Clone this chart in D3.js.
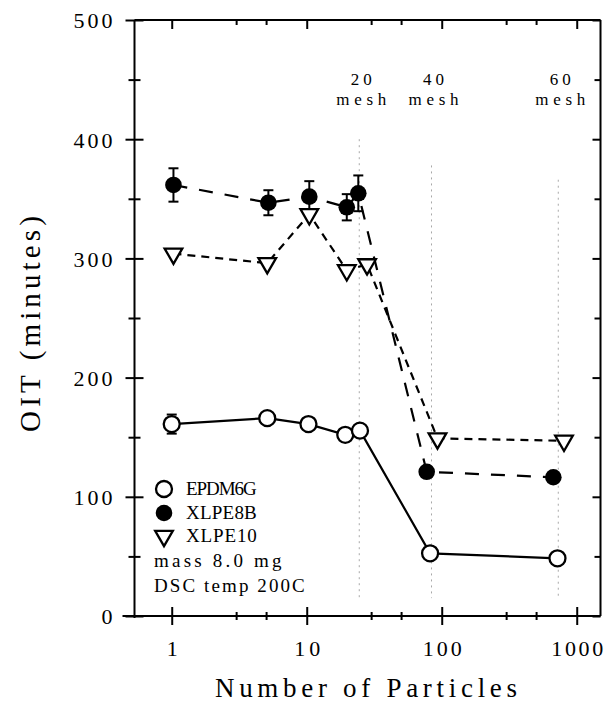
<!DOCTYPE html>
<html><head><meta charset="utf-8">
<script src="https://cdn.jsdelivr.net/npm/d3@7"></script>
<style>body{margin:0;background:#fff}svg{display:block}</style>
</head><body><svg id="c" width="606" height="704"></svg>
<script>
// ---- data ----
const seriesNames = ["EPDM6G", "XLPE8B", "XLPE10"];
const epdmX = [1, 5.1, 10.3, 19.3, 24.8, 82, 720];
const epdmY = [161, 166, 161, 152, 155.5, 52.6, 48.4];
const epdmErr = [8, 0, 0, 0, 0, 0, 0];
const xlpe8bX = [1.03, 5.2, 10.45, 19.8, 24.1, 77.4, 671];
const xlpe8bY = [361.6, 346.7, 351.8, 342.9, 354.6, 121, 116.4];
const xlpe8bErr = [14, 10.5, 13, 11, 15, 0, 0];
const xlpe10X = [1.03, 5.1, 10.45, 19.8, 28, 93, 805];
const xlpe10Y = [304, 296, 337, 290, 295, 149, 147];
const meshX = [24.5, 84, 730];
const meshTop = [400, 378, 366];
const meshLabels = ["20", "40", "60"];
const meshWord = "mesh";
const xMajorTicks = [1, 10, 100, 1000];
const xMinorTicks = [3, 5, 30, 50, 300, 500];
const yMajorTicks = [0, 100, 200, 300, 400, 500];
const yMinorTicks = [50, 150, 250, 350, 450];
const notes = ["mass 8.0 mg", "DSC temp 200C"];
const xTitle = "Number of Particles";
const yTitle = "OIT (minutes)";

// ---- layout ----
const FONT = "'Liberation Serif','DejaVu Serif',serif";
const L = 134.5, R = 600.5, T = 20, B = 616;
const svg = d3.select("#c");
const x = d3.scaleLog().domain([0.53, 1500]).range([L, R]);
const y = d3.scaleLinear().domain([0, 500]).range([B, T]);

function spaced(sel, cw) {
  sel.attr("textLength", function () { return this.textContent.length * cw; })
     .attr("lengthAdjust", "spacing");
}

// mesh dotted guides
const gMesh = svg.append("g");
meshX.forEach((mx, i) => {
  gMesh.append("line").attr("x1", x(mx)).attr("x2", x(mx))
    .attr("y1", y(meshTop[i])).attr("y2", y(15))
    .attr("stroke", "#a8a8a8").attr("stroke-width", 1).attr("stroke-dasharray", "2,4");
  gMesh.append("text").attr("x", x(mx) + 2).attr("y", 85).attr("text-anchor", "middle")
    .attr("font-family", FONT).attr("font-size", 17).text(meshLabels[i]).call(spaced, 10.5);
  gMesh.append("text").attr("x", x(mx) + 2).attr("y", 105).attr("text-anchor", "middle")
    .attr("font-family", FONT).attr("font-size", 17).text(meshWord).call(spaced, 12.5);
});

// frame
svg.append("line").attr("x1", L - 12).attr("x2", R).attr("y1", B).attr("y2", B).attr("stroke", "#000").attr("stroke-width", 2);
svg.append("line").attr("x1", L).attr("x2", R).attr("y1", T).attr("y2", T).attr("stroke", "#000").attr("stroke-width", 2);
svg.append("line").attr("x1", L).attr("x2", L).attr("y1", T).attr("y2", B + 2).attr("stroke", "#000").attr("stroke-width", 2);
svg.append("line").attr("x1", R).attr("x2", R).attr("y1", T).attr("y2", B).attr("stroke", "#000").attr("stroke-width", 2);

// bottom axis
const bx = svg.append("g").attr("transform", `translate(0,${B})`)
  .call(d3.axisBottom(x).tickValues(xMajorTicks).tickFormat(d3.format("d")).tickSize(9));
bx.select(".domain").remove();
bx.selectAll(".tick line").attr("y1", -9).attr("y2", 9).attr("stroke-width", 2);
bx.selectAll(".tick text").attr("y", 40).attr("dy", null).attr("font-family", FONT).attr("font-size", 22)
  .attr("fill", "#000").call(spaced, 13);
const bxm = svg.append("g").attr("transform", `translate(0,${B})`)
  .call(d3.axisBottom(x).tickValues(xMinorTicks).tickFormat("").tickSize(4));
bxm.select(".domain").remove();
bxm.selectAll(".tick line").attr("y1", -4).attr("y2", 4).attr("stroke-width", 2);

// top axis (inward ticks)
const tx = svg.append("g").attr("transform", `translate(0,${T})`)
  .call(d3.axisBottom(x).tickValues(xMajorTicks).tickFormat("").tickSize(9));
tx.select(".domain").remove();
tx.selectAll(".tick line").attr("stroke-width", 2);
const txm = svg.append("g").attr("transform", `translate(0,${T})`)
  .call(d3.axisBottom(x).tickValues(xMinorTicks).tickFormat("").tickSize(5));
txm.select(".domain").remove();
txm.selectAll(".tick line").attr("stroke-width", 2);

// left axis
const ly = svg.append("g").attr("transform", `translate(${L},0)`)
  .call(d3.axisLeft(y).tickValues(yMajorTicks).tickFormat(d3.format("d")).tickSize(9));
ly.select(".domain").remove();
ly.selectAll(".tick line").attr("x1", -9).attr("x2", 9).attr("stroke-width", 2);
ly.selectAll(".tick text").attr("x", -22).attr("dy", "0.36em").attr("font-family", FONT).attr("font-size", 22)
  .attr("fill", "#000").call(spaced, 13);
const lym = svg.append("g").attr("transform", `translate(${L},0)`)
  .call(d3.axisLeft(y).tickValues(yMinorTicks).tickFormat("").tickSize(6));
lym.select(".domain").remove();
lym.selectAll(".tick line").attr("x1", -6).attr("x2", 6).attr("stroke-width", 2);

// right axis (inward ticks)
const ry = svg.append("g").attr("transform", `translate(${R},0)`)
  .call(d3.axisRight(y).tickValues(yMajorTicks).tickFormat("").tickSize(8));
ry.select(".domain").remove();
ry.selectAll(".tick line").attr("x1", -8).attr("x2", 0).attr("stroke-width", 2);
const rym = svg.append("g").attr("transform", `translate(${R},0)`)
  .call(d3.axisRight(y).tickValues(yMinorTicks).tickFormat("").tickSize(6));
rym.select(".domain").remove();
rym.selectAll(".tick line").attr("x1", -6).attr("x2", 0).attr("stroke-width", 2);

// titles
svg.append("text").attr("x", 366).attr("y", 697).attr("text-anchor", "middle")
  .attr("font-family", FONT).attr("font-size", 27).text(xTitle).call(spaced, 15.9);
svg.append("text").attr("transform", "translate(40,324) rotate(-90)").attr("text-anchor", "middle")
  .attr("font-family", FONT).attr("font-size", 29).text(yTitle).call(spaced, 16.6);

// series
const series = [
  { name: seriesNames[0], xs: epdmX, ys: epdmY, err: epdmErr, dash: null, sym: "open" },
  { name: seriesNames[1], xs: xlpe8bX, ys: xlpe8bY, err: xlpe8bErr, dash: "14,12", sym: "filled" },
  { name: seriesNames[2], xs: xlpe10X, ys: xlpe10Y, err: null, dash: "8,6", sym: "tri" }
];
const line = d3.line().x(d => x(d[0])).y(d => y(d[1]));
const tri = d3.symbol().type(d3.symbolTriangle).size(135);

series.forEach(s => {
  const pts = s.xs.map((v, i) => [v, s.ys[i]]);
  svg.append("path").attr("d", line(pts)).attr("fill", "none").attr("stroke", "#000")
    .attr("stroke-width", 2.2).attr("stroke-dasharray", s.dash);
});

function drawMarker(g, sym, cx, cy) {
  if (sym === "open") {
    g.append("circle").attr("cx", cx).attr("cy", cy).attr("r", 8).attr("fill", "#fff")
      .attr("stroke", "#000").attr("stroke-width", 2.3);
  } else if (sym === "filled") {
    g.append("circle").attr("cx", cx).attr("cy", cy).attr("r", 8.3).attr("fill", "#000");
  } else {
    g.append("path").attr("d", tri()).attr("transform", `translate(${cx},${cy}) rotate(180)`)
      .attr("fill", "#fff").attr("stroke", "#000").attr("stroke-width", 2.3);
  }
}

series.forEach(s => {
  const g = svg.append("g");
  s.xs.forEach((v, i) => {
    const e = s.err ? s.err[i] : 0;
    if (e > 0) {
      const cx = x(v), y1 = y(s.ys[i] + e), y2 = y(s.ys[i] - e);
      g.append("line").attr("x1", cx).attr("x2", cx).attr("y1", y1).attr("y2", y2).attr("stroke", "#000").attr("stroke-width", 2);
      [y1, y2].forEach(yy => g.append("line").attr("x1", cx - 5).attr("x2", cx + 5).attr("y1", yy).attr("y2", yy)
        .attr("stroke", "#000").attr("stroke-width", 2));
    }
  });
  s.xs.forEach((v, i) => drawMarker(g, s.sym, x(v), y(s.ys[i])));
});

// legend
const lg = svg.append("g");
const legY = [489, 513, 536];
series.forEach((s, i) => {
  drawMarker(lg, s.sym, 164, legY[i]);
  lg.append("text").attr("x", 186).attr("y", legY[i] + 6).attr("font-family", FONT).attr("font-size", 19)
    .text(s.name).call(spaced, 11.8);
});
notes.forEach((t, i) => {
  lg.append("text").attr("x", 154).attr("y", 567 + i * 24.5).attr("font-family", FONT).attr("font-size", 19)
    .text(t).call(spaced, 11.6);
});
</script></body></html>
